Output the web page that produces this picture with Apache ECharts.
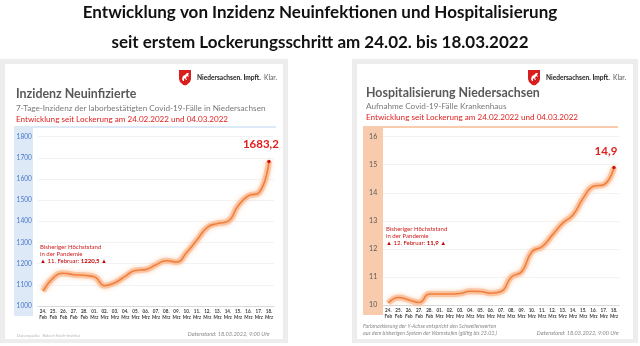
<!DOCTYPE html>
<html><head><meta charset="utf-8">
<script src="https://cdn.jsdelivr.net/npm/echarts@6/dist/echarts.min.js"></script>
<style>html,body{margin:0;padding:0;background:#fff}#c{width:640px;height:346px}</style>
</head><body><div id="c"></div>
<script>
const days = ['24.','25.','26.','27.','28.','01.','02.','03.','04.','05.','06.','07.','08.','09.','10.','11.','12.','13.','14.','15.','16.','17.','18.'];
const months = ['Feb','Feb','Feb','Feb','Feb','Mrz','Mrz','Mrz','Mrz','Mrz','Mrz','Mrz','Mrz','Mrz','Mrz','Mrz','Mrz','Mrz','Mrz','Mrz','Mrz','Mrz','Mrz'];
const inzidenz = [1070,1133,1155,1148,1145,1138,1096,1110,1140,1168,1172,1195,1214,1208,1254,1313,1372,1390,1400,1474,1521,1534,1683.2];
const hospital = [10.07,10.27,10.18,10.09,10.39,10.39,10.39,10.41,10.49,10.48,10.42,10.48,11.0,11.19,11.9,12.08,12.5,12.92,13.21,13.81,14.23,14.29,14.9];
const inzTicks = {min:1000,max:1800,interval:100};
const hosTicks = {min:10,max:16,interval:1};
const lastInz = '1683,2';
const lastHos = '14,9';

const categories = days.map((d,i)=>d+'\n'+months[i]);
const F = 'Lato, "Open Sans", sans-serif';
const chart = echarts.init(document.getElementById('c'), null, {renderer:'canvas'});

function seriesData(arr, lbl){
  return arr.map((v,i)=> i===arr.length-1 ? {value:v, symbol:'circle', symbolSize:3.5,
    itemStyle:{color:'#d01010'},
    label:{show:true, formatter:lbl, position:'top', offset:[-8,-4], color:'#e0201f', fontWeight:'bold', fontSize:11.5, fontFamily:F}} : v);
}
function glowSeries(idx, arr){
  return {type:'line', xAxisIndex:idx, yAxisIndex:idx, data:arr, smooth:0.5, symbol:'none', z:4, silent:true,
    lineStyle:{color:'rgba(249,185,145,0.75)', width:6, shadowColor:'rgba(250,190,150,0.9)', shadowBlur:4},
    emphasis:{disabled:true}, animation:false};
}
function lineSeries(idx, arr, lbl){
  return {type:'line', xAxisIndex:idx, yAxisIndex:idx, data:seriesData(arr,lbl), smooth:0.5,
    symbol:'none', showSymbol:true, z:5,
    lineStyle:{color:'#f07f3c', width:1.6},
    emphasis:{disabled:true}, animation:false};
}
const xLab = {interval:0, fontSize:4.6, lineHeight:5.4, fontWeight:'bold', color:'#404040', margin:3, fontFamily:F};
function shield(x,y){
  return [
    {type:'polygon', z:20, shape:{points:[[x,y],[x+12,y],[x+12,y+9],[x+11,y+12],[x+8.5,y+14.3],[x+6,y+15.5],[x+3.5,y+14.3],[x+1,y+12],[x,y+9]]}, style:{fill:'#d81e1e'}},
    {type:'polygon', z:21, shape:{points:[[x+3,y+9],[x+4,y+6],[x+6,y+5],[x+8,y+3],[x+10,y+3],[x+9,y+5],[x+10,y+7],[x+8,y+6],[x+7,y+8],[x+8,y+10],[x+7,y+10],[x+6,y+8],[x+5,y+9],[x+5,y+11],[x+4,y+11]]}, style:{fill:'#ffffff'}}
  ];
}
function txt(x,y,text,style){
  return {type:'text', z:20, x:x, y:y, style:Object.assign({text:text, fontFamily:F, verticalAlign:'middle'}, style)};
}
function logoText(x,y){
  return {type:'text', z:20, x:x, y:y, style:{verticalAlign:'middle', text:'{b|Niedersachsen. Impft.} {a|Klar.}',
    rich:{b:{fontSize:6.6, fontWeight:'bold', fill:'#222', fontFamily:F}, a:{fontSize:6.6, fill:'#555', fontFamily:F}}}};
}
const graphics = [
  {type:'rect', z:-10, shape:{x:0,y:59,width:288,height:284}, style:{fill:'#ededed'}},
  {type:'rect', z:-9, shape:{x:5,y:64,width:278,height:275}, style:{fill:'#ffffff'}},
  {type:'rect', z:-10, shape:{x:352,y:59,width:286,height:284}, style:{fill:'#ededed'}},
  {type:'rect', z:-9, shape:{x:357,y:64,width:276,height:275}, style:{fill:'#ffffff'}},
  {type:'rect', z:-8, shape:{x:14,y:127,width:19,height:189}, style:{fill:'#dde9f6'}},
  {type:'rect', z:-8, shape:{x:14,y:126,width:262,height:2}, style:{fill:'#dde9f6'}},
  {type:'rect', z:-8, shape:{x:363,y:127,width:20,height:188}, style:{fill:'#f8cbad'}},
  {type:'rect', z:-8, shape:{x:363,y:126,width:255,height:2}, style:{fill:'#f8cbad'}},
  ...shield(179,70), ...shield(528,70),
  logoText(197,78), logoText(546,78),
  txt(320,13,'Entwicklung von Inzidenz Neuinfektionen und Hospitalisierung',{fontSize:17, fontWeight:'bold', fill:'#111', align:'center'}),
  txt(320,43,'seit erstem Lockerungsschritt am 24.02. bis 18.03.2022',{fontSize:17, fontWeight:'bold', fill:'#111', align:'center'}),
  txt(16,94,'Inzidenz Neuinfizierte',{fontSize:12.4, fontWeight:'bold', fill:'#595959'}),
  txt(16,108,'7-Tage-Inzidenz der laborbestätigten Covid-19-Fälle in Niedersachsen',{fontSize:8.2, fill:'#7a7a7a'}),
  txt(16,119,'Entwicklung seit Lockerung am 24.02.2022 und 04.03.2022',{fontSize:8.1, fill:'#e0201f'}),
  txt(366,93,'Hospitalisierung Niedersachsen',{fontSize:12.4, fontWeight:'bold', fill:'#595959'}),
  txt(366,106,'Aufnahme Covid-19-Fälle Krankenhaus',{fontSize:8.2, fill:'#7a7a7a'}),
  txt(366,117,'Entwicklung seit Lockerung am 24.02.2022 und 04.03.2022',{fontSize:8.1, fill:'#e0201f'}),
  txt(40,247.5,'Bisheriger Höchststand',{fontSize:6, fill:'#d02020'}),
  txt(40,254,'in der Pandemie',{fontSize:6, fill:'#d02020'}),
  {type:'text', z:20, x:40, y:261, style:{rich:{a:{fontSize:6, fill:'#c00000', fontFamily:F}, b:{fontSize:6, fill:'#c00000', fontWeight:'bold', fontFamily:F}}, text:'{a|▲ 11. Februar: }{b|1220,5}{a| ▲}', verticalAlign:'middle'}},
  txt(386,229.5,'Bisheriger Höchststand',{fontSize:6, fill:'#d02020'}),
  txt(386,236.3,'in der Pandemie',{fontSize:6, fill:'#d02020'}),
  {type:'text', z:20, x:386, y:243.3, style:{rich:{a:{fontSize:6, fill:'#c00000', fontFamily:F}, b:{fontSize:6, fill:'#c00000', fontWeight:'bold', fontFamily:F}}, text:'{a|▲ 12. Februar: }{b|11,9}{a| ▲}', verticalAlign:'middle'}},
  txt(17,336,'Datenquelle:  Robert Koch-Institut',{fontSize:4.2, fill:'#b8b8b8'}),
  txt(270,334,'Datenstand: 18.03.2022, 9:00 Uhr',{fontSize:5.6, fontStyle:'italic', fill:'#8a8a8a', align:'right'}),
  txt(363,326.5,'Farbmarkierung der Y-Achse entspricht den Schwellenwerten',{fontSize:5.3, fontStyle:'italic', fill:'#8a8a8a'}),
  txt(363,333.5,'aus dem bisherigen System der Warnstufen (gültig bis 23.02.)',{fontSize:5.3, fontStyle:'italic', fill:'#8a8a8a'}),
  txt(619,333.5,'Datenstand: 18.03.2022, 9:00 Uhr',{fontSize:5.6, fontStyle:'italic', fill:'#8a8a8a', align:'right'})
];

chart.setOption({
  animation:false,
  backgroundColor:'#ffffff',
  grid:[
    {left:37.9, right:365.9, top:136.7, bottom:40},
    {left:383.2, right:20.9, top:136.7, bottom:41}
  ],
  xAxis:[
    {type:'category', gridIndex:0, data:categories, boundaryGap:true, axisTick:{show:false},
     axisLine:{lineStyle:{color:'#d9d9d9', width:1}}, axisLabel:xLab},
    {type:'category', gridIndex:1, data:categories, boundaryGap:true, axisTick:{show:false},
     axisLine:{lineStyle:{color:'#d9d9d9', width:1}}, axisLabel:xLab}
  ],
  yAxis:[
    {type:'value', gridIndex:0, min:inzTicks.min, max:inzTicks.max, interval:inzTicks.interval,
     axisLine:{show:false}, axisTick:{show:false},
     splitLine:{lineStyle:{color:'#f3f3f3', width:1}},
     axisLabel:{color:'#4a78c8', fontSize:6.6, margin:6, fontFamily:F, formatter:v=>String(v)}},
    {type:'value', gridIndex:1, min:hosTicks.min, max:hosTicks.max, interval:hosTicks.interval,
     axisLine:{show:false}, axisTick:{show:false},
     splitLine:{lineStyle:{color:'#f3f3f3', width:1}},
     axisLabel:{color:'#595959', fontSize:7, margin:6, fontFamily:F, formatter:v=>String(v)}}
  ],
  series:[glowSeries(0, inzidenz), lineSeries(0, inzidenz, lastInz), glowSeries(1, hospital), lineSeries(1, hospital, lastHos)],
  graphic:{elements:graphics}
});
</script></body></html>
